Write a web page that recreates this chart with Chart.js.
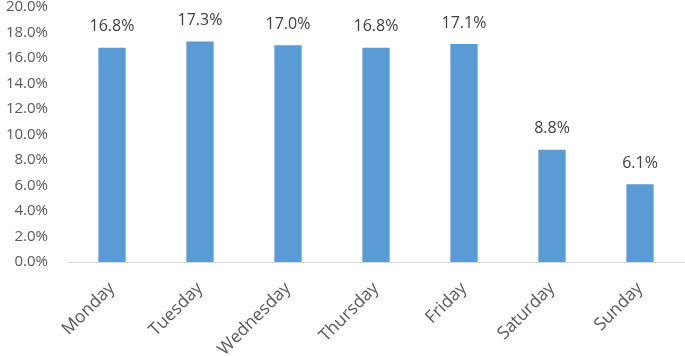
<!DOCTYPE html>
<html>
<head>
<meta charset="utf-8">
<script src="https://cdn.jsdelivr.net/npm/chart.js@4/dist/chart.umd.min.js"></script>
<style>
html,body{margin:0;padding:0;background:#fff;}
#wrap{width:685px;height:356px;position:relative;}
</style>
</head>
<body>
<div id="wrap"><canvas id="c" width="685" height="356"></canvas></div>
<script>
const categories = ["Monday","Tuesday","Wednesday","Thursday","Friday","Saturday","Sunday"];
const shares = [16.8, 17.3, 17.0, 16.8, 17.1, 8.8, 6.1];
const yTicks = [0,2,4,6,8,10,12,14,16,18,20];

const FONT = "'Open Sans', sans-serif";

const valueLabels = {
  id: 'valueLabels',
  afterDatasetsDraw(chart) {
    const ctx = chart.ctx;
    const meta = chart.getDatasetMeta(0);
    ctx.save();
    ctx.font = "16px " + FONT;
    ctx.fillStyle = "#404040";
    ctx.textAlign = "center";
    ctx.textBaseline = "middle";
    meta.data.forEach((bar, i) => {
      ctx.fillText(shares[i].toFixed(1) + "%", bar.x, bar.y - 21);
    });
    ctx.restore();
  }
};

new Chart(document.getElementById('c'), {
  type: 'bar',
  data: {
    labels: categories,
    datasets: [{
      data: shares,
      backgroundColor: '#5B9BD5',
      borderWidth: 0,
      barPercentage: 1,
      categoryPercentage: 0.31
    }]
  },
  options: {
    responsive: false,
    animation: false,
    devicePixelRatio: 1,
    layout: { padding: { top: 7, left: 0, right: 1, bottom: 0 } },
    plugins: { legend: { display: false }, tooltip: { enabled: false } },
    scales: {
      x: {
        grid: { display: false, drawTicks: false },
        border: { display: true, color: '#d9d9d9', width: 1 },
        ticks: {
          color: '#595959',
          font: { family: FONT, size: 17.5 },
          maxRotation: 45,
          minRotation: 45,
          padding: 16
        },
        afterFit(scale) {
          scale.paddingLeft = 0;
          scale.paddingRight = 0;
          scale.height = 94;
        }
      },
      y: {
        min: 0,
        max: 20,
        afterBuildTicks(axis) { axis.ticks = yTicks.map(v => ({ value: v })); },
        grid: { display: false, drawTicks: false },
        border: { display: false },
        ticks: {
          color: '#595959',
          font: { family: FONT, size: 15 },
          padding: 20,
          callback: v => v.toFixed(1) + '%'
        },
        afterFit(scale) {
          scale.paddingTop = 0;
          scale.paddingBottom = 0;
          scale.width = 68;
        }
      }
    }
  },
  plugins: [valueLabels]
});
</script>
</body>
</html>
